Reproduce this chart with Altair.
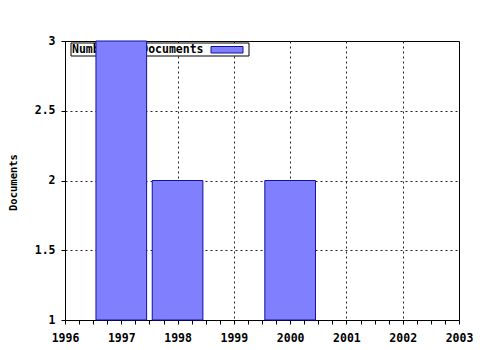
import altair as alt
import pandas as pd

years = [1997, 1998, 2000]
documents = [3, 2, 2]
legend_label = "Number of Documents"

FONT = "DejaVu Sans Mono"
BAR_FILL = "#8080ff"
BAR_STROKE = "#1010a0"

df = pd.DataFrame({"year": years, "documents": documents})
x_ticks = [1996 + i * 0.25 for i in range(29)]
y_ticks = [1, 1.5, 2, 2.5, 3]

x_scale = alt.Scale(domain=[1996, 2003], nice=False, zero=False)
y_scale = alt.Scale(domain=[1, 3], nice=False, zero=False)

x_axis = alt.Axis(
    values=x_ticks,
    labelExpr="datum.value % 1 == 0 ? format(datum.value, 'd') : ''",
    title=None,
    tickSize=4,
    tickColor="black",
    domainColor="black",
    labelFont=FONT, labelFontWeight="bold", labelFontSize=11.5, labelColor="black",
    labelPadding=8,
    grid=True,
    gridColor="#222",
    gridDash=[2, 3],
    gridOpacity={"condition": {"test": "datum.value % 1 == 0 && datum.value > 1996 && datum.value < 2003", "value": 1}, "value": 0},
    labelFlush=False,
)
y_axis = alt.Axis(
    values=y_ticks,
    format="~g",
    title="Documents",
    titleFont=FONT, titleFontWeight="bold", titleFontSize=10.5, titleColor="black",
    titleX=-49, titleY=141, titleAngle=-90, titleAlign="center", titleBaseline="alphabetic",
    tickSize=4,
    tickColor="black",
    domainColor="black",
    labelFont=FONT, labelFontWeight="bold", labelFontSize=11.5, labelColor="black",
    labelPadding=6,
    grid=True,
    gridColor="#222",
    gridDash=[2, 3],
    gridOpacity={"condition": {"test": "datum.value > 1 && datum.value < 3", "value": 1}, "value": 0},
    labelFlush=False,
)

base = alt.Chart(df)

legend_box = base.mark_rect(fill="white", stroke="black", strokeWidth=1).encode(
    x=alt.value(6), x2=alt.value(184), y=alt.value(2), y2=alt.value(15)
).transform_filter("datum.year == 1997")

legend_text = base.mark_text(
    text=legend_label, font=FONT, fontWeight="bold", fontSize=11.5,
    align="left", baseline="middle", color="black"
).encode(x=alt.value(7), y=alt.value(9)).transform_filter("datum.year == 1997")

legend_swatch = base.mark_rect(fill=BAR_FILL, stroke=BAR_STROKE, strokeWidth=1).encode(
    x=alt.value(146), x2=alt.value(178), y=alt.value(5.5), y2=alt.value(12)
).transform_filter("datum.year == 1997")

bars = base.transform_calculate(
    x0="datum.year - 0.45", x1="datum.year + 0.45"
).mark_rect(fill=BAR_FILL, stroke=BAR_STROKE, strokeWidth=1).encode(
    x=alt.X("x0:Q", scale=x_scale, axis=x_axis),
    x2="x1:Q",
    y=alt.Y("documents:Q", scale=y_scale, axis=y_axis),
    y2=alt.datum(1),
)

chart = alt.layer(legend_box, legend_text, legend_swatch, bars).properties(
    width=394, height=279,
    autosize=alt.AutoSizeParams(type="none"),
    padding={"left": 65, "top": 41, "right": 21, "bottom": 30},
    background="white",
).configure_view(stroke="black", strokeWidth=1)

chart.save("out.html", embed_options={"renderer": "svg", "actions": False})
